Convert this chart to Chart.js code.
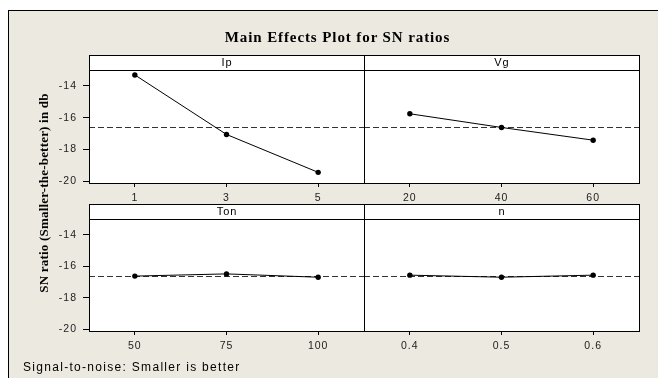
<!DOCTYPE html>
<html>
<head>
<meta charset="utf-8">
<script src="https://cdn.jsdelivr.net/npm/chart.js@4.4.1/dist/chart.umd.min.js"></script>
<style>
  html, body { margin: 0; padding: 0; background: #fff; overflow: hidden; }
  #frame { position: absolute; left: 8px; top: 10px; width: 660px; height: 380px;
           background: #ECE9E0; border-left: 1px solid #000; border-top: 1px solid #000; }
  canvas { position: absolute; left: 0; top: 0; }
  .lbl { position: absolute; white-space: nowrap; color: #000; }
  #title { left: 0; width: 675px; top: 29px; text-align: center;
           font: bold 15px "Liberation Serif", "Times New Roman", serif; line-height: 16px; letter-spacing: 0.9px; }
  #ytitle { left: -106px; width: 300px; top: 185px; text-align: center; transform: rotate(-90deg);
            font: bold 13px "Liberation Serif", "Times New Roman", serif; line-height: 16px; letter-spacing: 0.2px; }
  #footer { left: 23px; top: 360px; font: 12px "Liberation Sans", Arial, sans-serif; line-height: 14px; letter-spacing: 1.3px; }
</style>
</head>
<body>
<div id="frame"></div>
<canvas id="ip" width="658" height="378"></canvas>
<canvas id="vg" width="658" height="378"></canvas>
<canvas id="ton" width="658" height="378"></canvas>
<canvas id="n" width="658" height="378"></canvas>
<div class="lbl" id="title">Main Effects Plot for SN ratios</div>
<div class="lbl" id="ytitle">SN ratio (Smaller-the-better) in db</div>
<div class="lbl" id="footer">Signal-to-noise: Smaller is better</div>
<script>
// factor levels and mean SN ratios
const ipLevels = ['1', '3', '5'];
const ipSN = [-13.31, -17.05, -19.43];
const vgLevels = ['20', '40', '60'];
const vgSN = [-15.75, -16.61, -17.41];
const tonLevels = ['50', '75', '100'];
const tonSN = [-16.62, -16.48, -16.69];
const nLevels = ['0.4', '0.5', '0.6'];
const nSN = [-16.56, -16.69, -16.56];
const grandMean = -16.61;
const yTicks = [-20, -18, -16, -14];
const yMin = -20.1, yMax = -13.0;

const W = 658, H = 378;
const tickFont = { family: '"Liberation Sans", Arial, sans-serif', size: 10.5 };

// frame, strip header and mean line for each panel
const panelDeco = {
    id: 'panelDeco',
    beforeDraw(chart) {
        const a = chart.chartArea, ctx = chart.ctx;
        ctx.letterSpacing = '1px';
        ctx.save();
        ctx.fillStyle = '#fff';
        ctx.fillRect(a.left, a.top, a.right - a.left, a.bottom - a.top);
        ctx.restore();
    },
    beforeDatasetsDraw(chart) {
        const a = chart.chartArea, ctx = chart.ctx;
        const y = Math.round(chart.scales.y.getPixelForValue(grandMean)) + 0.5;
        ctx.save();
        ctx.strokeStyle = '#333';
        ctx.lineWidth = 1;
        ctx.setLineDash([6, 3]);
        ctx.beginPath();
        ctx.moveTo(a.left, y);
        ctx.lineTo(a.right, y);
        ctx.stroke();
        ctx.restore();
    },
    afterDraw(chart, args, opts) {
        const a = chart.chartArea, ctx = chart.ctx;
        const sh = 15;
        ctx.save();
        ctx.fillStyle = '#fff';
        ctx.fillRect(a.left, a.top - sh, a.right - a.left, sh);
        ctx.strokeStyle = '#000';
        ctx.lineWidth = 1;
        ctx.strokeRect(a.left + 0.5, a.top - sh + 0.5, a.right - a.left, sh);
        ctx.strokeRect(a.left + 0.5, a.top + 0.5, a.right - a.left, a.bottom - a.top);
        ctx.fillStyle = '#000';
        ctx.font = '11px "Liberation Sans", Arial, sans-serif';
        ctx.letterSpacing = '1px';
        ctx.textAlign = 'center';
        ctx.textBaseline = 'middle';
        ctx.fillText(opts.strip, (a.left + a.right) / 2 + 0.5, a.top - sh / 2);
        ctx.restore();
    }
};

function makePanel(id, strip, levels, values, box, showY) {
    const yAxisWidth = showY ? 40 : 0, xAxisHeight = 26;
    return new Chart(document.getElementById(id), {
        type: 'line',
        data: {
            labels: levels,
            datasets: [{
                data: values,
                borderColor: '#000',
                borderWidth: 1,
                pointRadius: 2.7,
                pointBackgroundColor: '#000',
                pointBorderWidth: 0,
                tension: 0
            }]
        },
        options: {
            responsive: false,
            animation: false,
            events: [],
            layout: {
                autoPadding: false,
                padding: {
                    left: box.left - yAxisWidth,
                    top: box.top,
                    right: W - box.right,
                    bottom: H - box.bottom - xAxisHeight
                }
            },
            plugins: {
                legend: { display: false },
                tooltip: { enabled: false },
                panelDeco: { strip: strip }
            },
            scales: {
                x: {
                    type: 'category',
                    offset: true,
                    grid: { drawOnChartArea: false, tickLength: 4, color: '#000' },
                    border: { display: false },
                    ticks: { color: '#222', font: tickFont, padding: 5, maxRotation: 0 },
                    afterFit: s => { s.height = xAxisHeight; }
                },
                y: {
                    display: showY,
                    min: yMin,
                    max: yMax,
                    afterBuildTicks: s => { s.ticks = yTicks.map(v => ({ value: v })); },
                    grid: { drawOnChartArea: false, tickLength: 6, color: '#000' },
                    border: { display: false },
                    ticks: { color: '#222', font: tickFont, padding: 6 },
                    afterFit: s => { s.width = yAxisWidth; }
                }
            }
        },
        plugins: [panelDeco]
    });
}

makePanel('ip', 'Ip', ipLevels, ipSN, { left: 89, right: 364, top: 70, bottom: 183 }, true);
makePanel('vg', 'Vg', vgLevels, vgSN, { left: 364, right: 639, top: 70, bottom: 183 }, false);
makePanel('ton', 'Ton', tonLevels, tonSN, { left: 89, right: 364, top: 219, bottom: 331 }, true);
makePanel('n', 'n', nLevels, nSN, { left: 364, right: 639, top: 219, bottom: 331 }, false);
</script>
</body>
</html>
